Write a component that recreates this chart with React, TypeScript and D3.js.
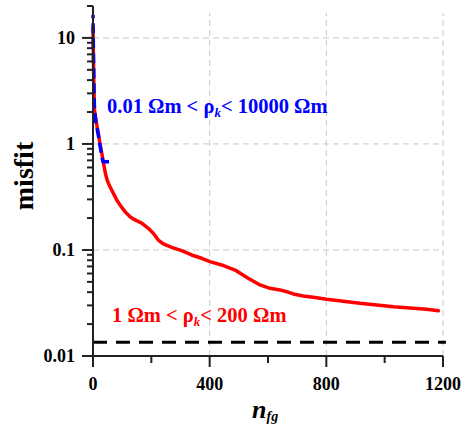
import React from "react";
import * as d3 from "d3";

const redN = [0, 1.7, 3.4, 5, 10, 18, 24, 30, 35.3, 43.5, 50.4, 58.3, 69.6, 81.3, 92.6, 109.7, 126.9, 144, 167, 189.6, 206.7, 223.9, 241, 269.8, 304, 338, 372.7, 401, 441, 487, 532, 572.6, 606.9, 641, 664, 686.7, 721, 755, 801, 858, 915, 973, 1030, 1087, 1144, 1184];
const redMisfit = [12.4, 6.2, 3.23, 2.09, 1.68, 1.27, 1.0, 0.822, 0.676, 0.511, 0.441, 0.395, 0.343, 0.297, 0.266, 0.23, 0.206, 0.192, 0.179, 0.16, 0.144, 0.124, 0.114, 0.106, 0.0985, 0.0897, 0.0835, 0.0776, 0.0722, 0.0647, 0.0541, 0.0468, 0.0435, 0.042, 0.0404, 0.0385, 0.0368, 0.0358, 0.0343, 0.0328, 0.0314, 0.0303, 0.0292, 0.0284, 0.0276, 0.0267];

const blueN = [0, 1.7, 3.4, 5, 10, 18, 24, 32, 35, 55];
const blueMisfit = [16.5, 6.2, 3.23, 2.09, 1.6, 1.22, 0.97, 0.72, 0.68, 0.68];

const targetN = [0, 1210];
const targetMisfit = [0.0135, 0.0135];

const xMajorTicks = [0, 400, 800, 1200];
const xMinorTicks = [200, 600, 1000];
const yMajorTicks = [0.01, 0.1, 1, 10];
const yTickLabels = ["0.01", "0.1", "1", "10"];
const xGrid = [400, 800, 1200];
const yGrid = [0.1, 1, 10];

const W = 462;
const H = 430;
const FONT = "'Liberation Serif', 'Times New Roman', serif";

export default function App() {
  const x = d3.scaleLinear().domain([0, 1200]).range([93, 443]);
  const y = d3.scaleLog().domain([0.01, 20]).range([356, 6]);

  const yMinor: number[] = [];
  for (const dec of [0.01, 0.1, 1, 10]) {
    for (let k = 2; k <= 9; k++) {
      const v = dec * k;
      if (v <= 20) yMinor.push(v);
    }
  }

  const line = d3
    .line<[number, number]>()
    .x((d) => x(d[0]))
    .y((d) => y(d[1]));

  const redData = redN.map((n, i) => [n, redMisfit[i]] as [number, number]);
  const blueData = blueN.map((n, i) => [n, blueMisfit[i]] as [number, number]);
  const targetData = targetN.map((n, i) => [n, targetMisfit[i]] as [number, number]);

  // length of blue path so the dash pattern ends on a dash
  let blueLen = 0;
  for (let i = 1; i < blueData.length; i++) {
    const dx = x(blueData[i][0]) - x(blueData[i - 1][0]);
    const dy = y(blueData[i][1]) - y(blueData[i - 1][1]);
    blueLen += Math.hypot(dx, dy);
  }
  const period = 15;
  const blueOffset = ((10 - (blueLen % period)) % period + period) % period;

  const [y0, y1] = y.range();
  const [x0, x1] = x.range();

  return (
    <svg
      width={W}
      height={H}
      style={{ position: "absolute", left: 0, top: 0, background: "#fff" }}
      fontFamily={FONT}
    >
      {/* grid */}
      {xGrid.map((v) => (
        <line key={"gx" + v} x1={x(v)} x2={x(v)} y1={y0} y2={13} stroke="#c8c8c8" strokeWidth={1} strokeDasharray="6,4" />
      ))}
      {yGrid.map((v) => (
        <line key={"gy" + v} x1={x0} x2={x1} y1={y(v)} y2={y(v)} stroke="#c8c8c8" strokeWidth={1} strokeDasharray="6,4" />
      ))}

      {/* target line */}
      <path d={line(targetData) || ""} fill="none" stroke="#000" strokeWidth={3} strokeDasharray="14,9" />

      {/* red curve */}
      <path d={line(redData) || ""} fill="none" stroke="#ff0000" strokeWidth={3.5} strokeLinejoin="round" strokeLinecap="round" />
      {/* blue dashed curve */}
      <path
        d={line(blueData) || ""}
        fill="none"
        stroke="#0000ff"
        strokeWidth={3.5}
        strokeDasharray="10,5"
        strokeDashoffset={blueOffset}
      />

      {/* axes */}
      <line x1={x0} x2={x0} y1={y1} y2={y0} stroke="#222" strokeWidth={2} />
      <line x1={x0} x2={x1} y1={y0} y2={y0} stroke="#222" strokeWidth={2} />
      {yMajorTicks.map((v) => (
        <line key={"ym" + v} x1={x0 - 11} x2={x0} y1={y(v)} y2={y(v)} stroke="#222" strokeWidth={2} />
      ))}
      {yMinor.map((v) => (
        <line key={"yn" + v} x1={x0 - 6} x2={x0} y1={y(v)} y2={y(v)} stroke="#222" strokeWidth={2} />
      ))}
      {xMajorTicks.map((v) => (
        <line key={"xm" + v} x1={x(v)} x2={x(v)} y1={y0} y2={y0 + 11} stroke="#222" strokeWidth={2} />
      ))}
      {xMinorTicks.map((v) => (
        <line key={"xn" + v} x1={x(v)} x2={x(v)} y1={y0} y2={y0 + 7} stroke="#222" strokeWidth={2} />
      ))}

      {/* tick labels */}
      {yMajorTicks.map((v, i) => (
        <text key={"yl" + v} x={75} y={y(v) + 6} textAnchor="end" fontSize={18} fontWeight="bold" fill="#000">
          {yTickLabels[i]}
        </text>
      ))}
      {xMajorTicks.map((v) => (
        <text key={"xl" + v} x={x(v)} y={390} textAnchor="middle" fontSize={18} fontWeight="bold" fill="#000">
          {v}
        </text>
      ))}

      {/* axis titles */}
      <text transform="translate(33,176) rotate(-90)" textAnchor="middle" fontSize={28} fontWeight="bold" fill="#000">
        misfit
      </text>
      <text x={252} y={418} fontWeight="bold" fontStyle="italic" fill="#000">
        <tspan fontSize={26}>n</tspan>
        <tspan fontSize={14} dy={3}>fg</tspan>
      </text>

      {/* annotations */}
      <text x={107} y={113} fontSize={20.5} fontWeight="bold" fill="#0000ff">
        0.01 Ωm &lt; ρ<tspan fontSize={13} fontStyle="italic" dy={4}>k</tspan>
        <tspan dy={-4}>&lt; 10000 Ωm</tspan>
      </text>
      <text x={112} y={322} fontSize={20.5} fontWeight="bold" fill="#ff0000">
        1 Ωm &lt; ρ<tspan fontSize={13} fontStyle="italic" dy={4}>k</tspan>
        <tspan dy={-4}>&lt; 200 Ωm</tspan>
      </text>
    </svg>
  );
}
